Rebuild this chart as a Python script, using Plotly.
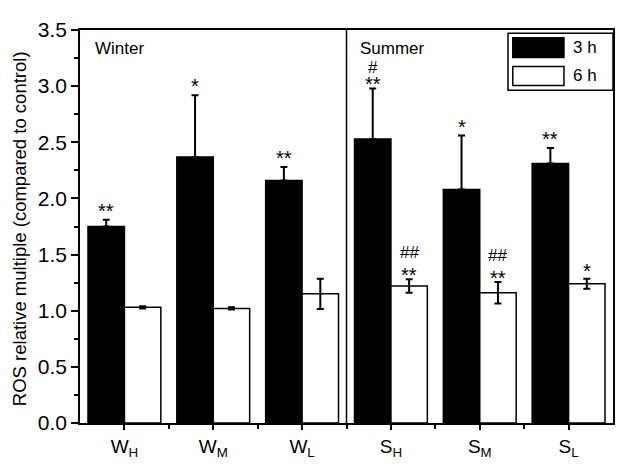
import plotly.graph_objects as go

# ---- data ----
categories = ["W<sub>H</sub>", "W<sub>M</sub>", "W<sub>L</sub>",
              "S<sub>H</sub>", "S<sub>M</sub>", "S<sub>L</sub>"]
values_3h = [1.75, 2.37, 2.16, 2.53, 2.08, 2.31]
errors_3h = [0.06, 0.55, 0.12, 0.45, 0.48, 0.14]
values_6h = [1.03, 1.02, 1.15, 1.22, 1.16, 1.24]
errors_6h = [0.01, 0.01, 0.135, 0.06, 0.095, 0.045]
sig_3h = ["**", "*", "**", "**", "*", "**"]
hash_3h = ["", "", "", "#", "", ""]
sig_6h = ["", "", "", "**", "**", "*"]
hash_6h = ["", "", "", "##", "##", ""]
series_names = ["3 h", "6 h"]
season_labels = ["Winter", "Summer"]
y_title = "ROS relative multiple (compared to control)"
y_ticks = [0.0, 0.5, 1.0, 1.5, 2.0, 2.5, 3.0, 3.5]

FONT = "Arial, Liberation Sans, sans-serif"
xs = list(range(len(categories)))
bargap = 0.18
bw = (1 - bargap) / 2

fig = go.Figure()
fig.add_trace(go.Bar(
    x=xs, y=values_3h, name=series_names[0], offsetgroup="a",
    marker=dict(color="black", line=dict(color="black", width=1.5)),
    error_y=dict(type="data", array=errors_3h, arrayminus=[0]*6,
                 color="black", thickness=2, width=3.5),
    showlegend=False))
fig.add_trace(go.Bar(
    x=xs, y=values_6h, name=series_names[1], offsetgroup="b",
    marker=dict(color="white", line=dict(color="black", width=1.5)),
    error_y=dict(type="data", array=errors_6h, color="black",
                 thickness=2, width=3.5),
    showlegend=False))

annotations = []
def add_sig(xc, ytop, text, shift, size=20):
    if text:
        annotations.append(dict(x=xc, y=ytop, xref="x", yref="y", text=text,
                                showarrow=False, yanchor="bottom", yshift=shift,
                                font=dict(family=FONT, size=size, color="black")))

for i in xs:
    x3 = i - bw / 2
    x6 = i + bw / 2
    t3 = values_3h[i] + errors_3h[i]
    t6 = values_6h[i] + errors_6h[i]
    add_sig(x3, t3, sig_3h[i], -9 if hash_3h[i] else -4)
    add_sig(x3, t3, hash_3h[i], 9, 17)
    add_sig(x6, t6, sig_6h[i], -9 if hash_6h[i] else -5)
    add_sig(x6, t6, hash_6h[i], 15, 17)

# season labels
for lbl, xp in zip(season_labels, [0.024, 0.521]):
    annotations.append(dict(x=xp, y=0.954, xref="paper", yref="paper",
                            text=lbl, showarrow=False,
                            xanchor="left", yanchor="middle",
                            font=dict(family=FONT, size=17, color="black")))

# y-axis title
annotations.append(dict(x=-0.112, y=0.494, xref="paper", yref="paper",
                        text=y_title, textangle=-90, showarrow=False,
                        xanchor="center", yanchor="middle",
                        borderpad=0, borderwidth=0,
                        font=dict(family=FONT, size=18.5, color="black")))

# custom legend + season divider
shapes = [
    dict(type="rect", xref="paper", yref="paper", x0=0.803, x1=1.0,
         y0=0.847, y1=0.992, line=dict(color="black", width=1.5),
         fillcolor="white"),
    dict(type="rect", xref="paper", yref="paper", x0=0.812, x1=0.908,
         y0=0.930, y1=0.980, line=dict(color="black", width=1.5),
         fillcolor="black"),
    dict(type="rect", xref="paper", yref="paper", x0=0.812, x1=0.908,
         y0=0.859, y1=0.907, line=dict(color="black", width=1.5),
         fillcolor="white"),
    dict(type="line", xref="x", yref="paper", x0=2.5, x1=2.5, y0=0, y1=1,
         line=dict(color="black", width=1.5)),
]
for name, yc in zip(series_names, [0.955, 0.883]):
    annotations.append(dict(x=0.921, y=yc, xref="paper", yref="paper",
                            text=name, showarrow=False, xanchor="left",
                            yanchor="middle",
                            font=dict(family=FONT, size=17, color="black")))

# page body has an 8px default margin: size/margins compensate for it
fig.update_layout(
    width=622, height=458,
    margin=dict(l=72, r=17, t=22, b=43),
    paper_bgcolor="white", plot_bgcolor="white",
    barmode="group", bargap=bargap, bargroupgap=0,
    font=dict(family=FONT, color="black"),
    annotations=annotations, shapes=shapes,
    showlegend=False,
)
fig.update_xaxes(
    range=[-0.5, 5.5], tickmode="array", tickvals=xs, ticktext=categories,
    ticks="outside", ticklen=5, tickwidth=1.5, tickcolor="black",
    showline=True, linecolor="black", linewidth=1.5, mirror=True,
    showgrid=False, zeroline=False, automargin=False,
    tickfont=dict(family=FONT, size=19, color="black"),
    minor=dict(tickmode="array", tickvals=[x + 0.5 for x in xs[:-1]],
               ticks="outside", ticklen=4, tickwidth=1.5, tickcolor="black",
               showgrid=False),
)
fig.update_yaxes(
    range=[0, 3.5], tickmode="array", tickvals=y_ticks, tickformat=".1f",
    ticks="outside", ticklen=7, tickwidth=1.5, tickcolor="black",
    showline=True, linecolor="black", linewidth=1.5, mirror=True,
    showgrid=False, zeroline=False, automargin=False,
    tickfont=dict(family=FONT, size=21, color="black"),
    minor=dict(dtick=0.25, tick0=0, ticks="outside", ticklen=4,
               tickwidth=1.5, tickcolor="black", showgrid=False),
)

fig.write_html("out.html")
